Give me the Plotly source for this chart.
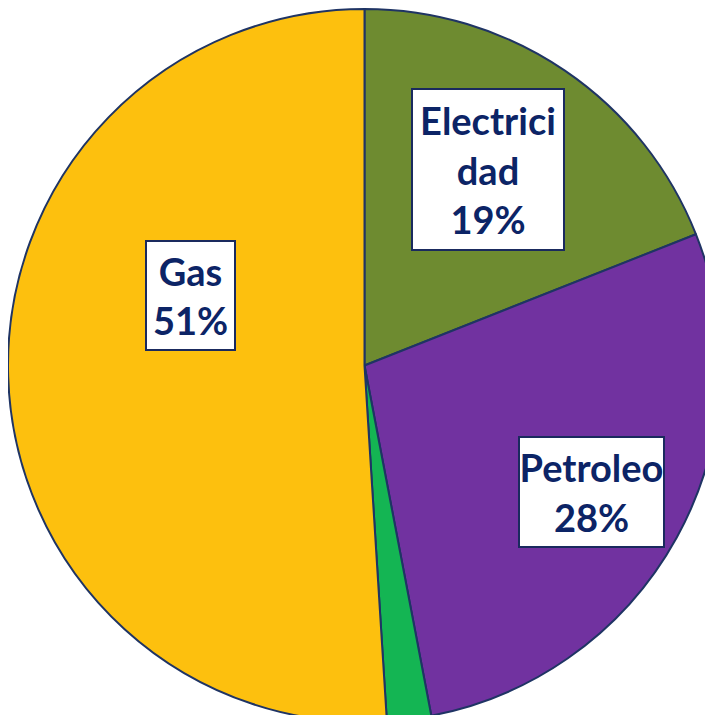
import plotly.graph_objects as go

labels = ["Electricidad", "Petroleo", "Otros", "Gas"]
values = [19, 28, 2, 51]
colors = ["#6E8B30", "#7132A0", "#14B553", "#FDC00E"]
label_text = ["Electrici<br>dad<br>19%", "Petroleo<br>28%", None, "Gas<br>51%"]
label_pos = [(0.673, 0.774), (0.818, 0.323), None, (0.256, 0.598)]
label_size = [(150, 159), (143, 108), None, (87, 107)]

fig = go.Figure(go.Pie(
    labels=labels, values=values, sort=False, direction="clockwise", rotation=0,
    marker=dict(colors=colors, line=dict(color="#1F3464", width=2)),
    textinfo="none", hoverinfo="label+percent", showlegend=False,
    domain=dict(x=[0, 1], y=[0, 1]),
))

for t, p, s in zip(label_text, label_pos, label_size):
    if t is None:
        continue
    fig.add_annotation(
        x=p[0], y=p[1], xref="paper", yref="paper", text="<b>" + t + "</b>",
        xanchor="center", yanchor="middle",
        showarrow=False, bgcolor="white", bordercolor="#1A2A5E", borderwidth=2,
        borderpad=0, width=s[0], height=s[1],
        font=dict(family="Lato, Open Sans, sans-serif", size=38, color="#0C2466"),
    )

fig.update_layout(
    width=713, height=715, margin=dict(l=0, r=0, t=0, b=0),
    paper_bgcolor="white", plot_bgcolor="white",
)
fig.write_html("out.html")
